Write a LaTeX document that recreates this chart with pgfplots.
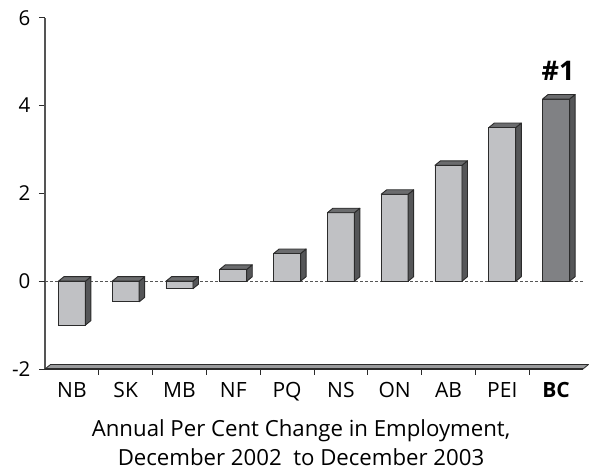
\documentclass[border=0pt]{standalone}
\usepackage{fontspec}
\setmainfont{Open Sans}
\usepackage{pgfplots}
\usepackage{pgfplotstable}
\pgfplotsset{compat=1.18}

\definecolor{edge}{HTML}{2B2B2B}
\definecolor{barfront}{HTML}{C0C1C4}
\definecolor{barside}{HTML}{A6A7AA}
\definecolor{bartop}{HTML}{B3B4B7}
\definecolor{bcfront}{HTML}{808184}
\definecolor{bcside}{HTML}{555658}
\definecolor{bctop}{HTML}{6B6C6E}
\definecolor{floor}{HTML}{9A9B9D}

% per cent change in employment, Dec 2002 to Dec 2003
\pgfplotstableread{
x v
0 -1.00
1 -0.47
2 -0.17
3 0.27
4 0.63
5 1.56
6 1.98
7 2.64
8 3.50
9 4.15
}\employ

\def\yu{43.9}   % pt per y unit
\def\hw{13.5}   % half bar width, pt
\def\dx{5.5}    % depth, pt
\def\dy{4.5}

% side and top faces of a 3d bar, drawn at the bar's value
\def\sidecol{barside}
\def\topcol{bartop}
\pgfdeclareplotmark{box3d}{%
  \pgfmathsetmacro\H{-\val*\yu}%
  \pgfmathsetmacro\T{max(0,\H)}%
  \pgfmathsetmacro\B{min(0,\H)}%
  \filldraw[draw=edge,fill=\sidecol,line width=0.9pt,line join=round]
    (\hw pt,\B pt) -- ++(\dx pt,\dy pt) -- ++(0pt,\T pt-\B pt) -- (\hw pt,\T pt) -- cycle;
  \filldraw[draw=edge,fill=\topcol,line width=0.9pt,line join=round]
    (-\hw pt,\T pt) -- ++(\dx pt,\dy pt) -- ++(2*\hw pt,0pt) -- (\hw pt,\T pt) -- cycle;
}

\begin{document}
\fontsize{22.2}{28}\selectfont
\begin{tikzpicture}
\begin{axis}[
    name=ax,
    x=53.8pt, y=\yu pt,
    xmin=-0.5, xmax=9.5,
    ymin=-2, ymax=6,
    axis x line=none,
    axis y line*=left,
    y axis line style={draw=edge!80, line width=1.1pt},
    ytick={-2,0,2,4,6},
    yticklabel style={font=\fontsize{20.5}{24}\selectfont, xshift=-1pt},
    ytick style={draw=edge, line width=0.8pt},
    tick align=outside,
    major tick length=6pt,
    /pgf/number format/assume math mode=true,
    extra y ticks={0},
    extra y tick labels={},
    extra y tick style={grid=major, major grid style={draw=edge!80, dash pattern=on 3pt off 2pt, line width=0.7pt}},
    clip=false,
]
% front faces
\addplot[ybar, bar width=27pt, bar shift=0pt, fill=barfront, draw=edge, line width=0.9pt,
    skip coords between index={9}{10}] table[x=x, y=v] {\employ};
\addplot[ybar, bar width=27pt, bar shift=0pt, fill=bcfront, draw=edge, line width=0.9pt,
    skip coords between index={0}{9},
    nodes near coords={\textbf{\#1}},
    nodes near coords style={font=\fontsize{27}{28}\selectfont, anchor=base, yshift=19pt, xshift=2pt}]
    table[x=x, y=v] {\employ};
% depth faces
\addplot[scatter, only marks, mark=box3d,
    scatter/@pre marker code/.code={\pgfscope},
    scatter/@post marker code/.code={\endpgfscope},
    visualization depends on={\thisrow{v} \as \val},
    skip coords between index={9}{10}] table[x=x, y=v] {\employ};
\def\sidecol{bcside}\def\topcol{bctop}
\addplot[scatter, only marks, mark=box3d,
    scatter/@pre marker code/.code={\pgfscope},
    scatter/@post marker code/.code={\endpgfscope},
    visualization depends on={\thisrow{v} \as \val},
    skip coords between index={0}{9}] table[x=x, y=v] {\employ};
\end{axis}
% floor
\filldraw[fill=floor, draw=edge, line width=0.8pt, line join=round]
  (ax.south west) -- ++(\dx pt,\dy pt) -- ([xshift=\dx pt, yshift=\dy pt]ax.south east)
  -- (ax.south east) -- cycle;
\draw[edge, line width=1.4pt] (ax.south west) -- (ax.south east);
% category ticks and labels
\foreach \i/\lab in {0/NB,1/SK,2/MB,3/NF,4/PQ,5/NS,6/ON,7/AB,8/PEI,9/\textbf{BC}} {
  \node[anchor=base, font=\fontsize{21}{24}\selectfont] at ([xshift=53.8*\i pt+26.9pt, yshift=-28.7pt]ax.south west) {\lab};
}
\foreach \i in {1,...,9} {
  \draw[edge, line width=0.8pt] ([xshift=53.8*\i pt]ax.south west) -- ++(0,-6pt);
}
\node[anchor=base, align=center] at ([xshift=-13pt, yshift=-67.7pt]ax.south) {Annual Per Cent Change in Employment,};
\node[anchor=base, align=center] at ([xshift=-13pt, yshift=-96pt]ax.south) {December 2002\ \ to December 2003};
\path ([xshift=-45pt, yshift=-99pt]ax.south west) ([xshift=544pt, yshift=369pt]ax.south west);
\end{tikzpicture}
\end{document}
